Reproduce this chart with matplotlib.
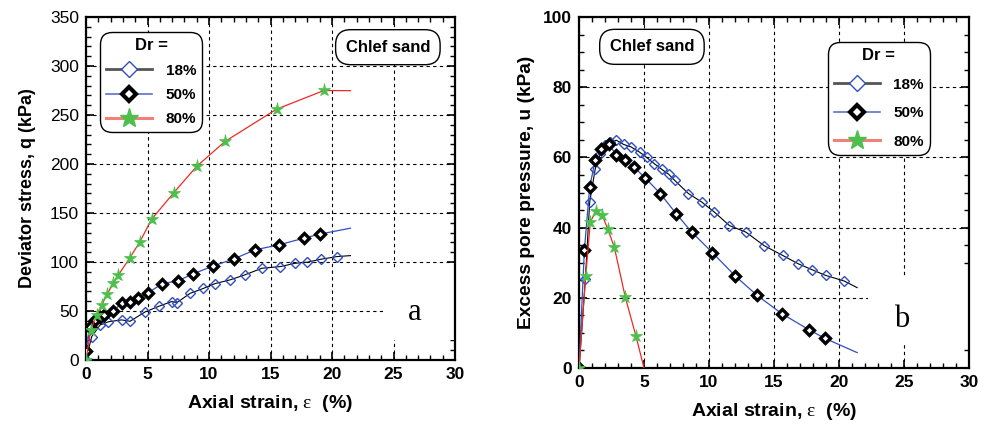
import matplotlib
matplotlib.use("Agg")
import matplotlib.pyplot as plt
from matplotlib.lines import Line2D
from matplotlib.patches import Rectangle
from matplotlib.ticker import MultipleLocator

plt.rcParams["font.family"] = ["Liberation Sans", "DejaVu Sans"]
plt.rcParams["mathtext.fontset"] = "custom"
plt.rcParams["mathtext.rm"] = "Liberation Serif"

DR_LABELS = ["18%", "50%", "80%"]

# ── (a) deviator stress q vs axial strain ─────────────────────────────────────
q18_eps = [0.0, 0.46, 1.14, 1.82, 2.9, 3.58, 4.8, 5.96, 6.96, 7.4, 8.46, 9.54,
           10.5, 11.7, 12.9, 14.3, 15.8, 17.0, 18.0, 19.1, 20.4, 21.5]
q18_q = [0.0, 23.8, 35.7, 39.0, 40.9, 39.5, 49.0, 55.0, 59.6, 58.6, 68.0, 73.0,
         78.0, 81.7, 86.8, 93.6, 95.3, 98.7, 99.8, 102.8, 105.5, 106.5]

q50_eps = [0.0, 0.33, 0.73, 1.14, 1.5, 2.2, 2.9, 3.58, 4.25, 5.07, 6.15, 7.5,
           8.7, 10.35, 12.0, 13.74, 15.7, 17.7, 19.0, 21.5]
q50_q = [9.5, 34.0, 40.8, 44.0, 46.0, 50.0, 57.8, 59.5, 63.0, 68.7, 77.5, 81.0,
         87.8, 96.0, 103.0, 112.4, 117.5, 124.3, 128.4, 134.5]

q80_eps = [0.0, 0.38, 0.87, 1.27, 1.73, 2.22, 2.63, 3.58, 4.39, 5.34, 7.15,
           8.99, 11.3, 15.5, 19.35, 21.5]
q80_q = [0.0, 30.6, 46.0, 56.0, 67.4, 78.3, 86.8, 104.5, 120.9, 143.7, 170.9,
         197.5, 223.0, 256.0, 275.0, 274.8]

# ── (b) excess pore pressure u vs axial strain ────────────────────────────────
u18_eps = [0.0, 0.49, 0.82, 1.25, 1.64, 2.02, 2.4, 2.87, 3.43, 4.0, 4.66, 5.2,
           5.8, 6.37, 6.9, 7.35, 8.42, 9.44, 10.42, 11.57, 12.85, 14.23, 15.66,
           16.87, 17.94, 18.97, 20.4, 21.4]
u18_u = [0.0, 25.5, 47.3, 56.8, 61.0, 63.6, 64.4, 64.9, 63.7, 63.0, 61.5, 60.0,
         58.2, 56.6, 55.2, 53.5, 49.7, 47.3, 44.4, 40.6, 38.7, 34.9, 32.1,
         29.7, 28.0, 26.4, 24.8, 22.9]

u50_eps = [0.0, 0.41, 0.82, 1.25, 1.71, 2.28, 2.87, 3.56, 4.2, 5.09, 6.25, 7.47,
           8.68, 10.26, 12.0, 13.67, 15.6, 17.7, 18.9, 21.4]
u50_u = [0.0, 33.5, 51.6, 59.2, 62.5, 63.7, 60.8, 59.2, 57.3, 54.2, 49.7, 44.0,
         38.7, 32.9, 26.3, 20.8, 15.5, 10.9, 8.5, 4.4]

u80_eps = [0.0, 0.51, 0.87, 1.3, 1.77, 2.2, 2.71, 3.56, 4.38, 5.0]
u80_u = [0.0, 26.1, 41.6, 44.7, 43.7, 39.7, 34.5, 20.2, 9.1, 0.0]

BLUE = "#2f4fc0"
RED = "#ee2a22"
GREEN = "#4cc04c"

STYLE18 = dict(color="black", lw=0.8, marker="D", ms=5.5, mfc="none",
               mec=BLUE, mew=1.0)
STYLE50 = dict(color=BLUE, lw=0.9, marker="D", ms=5, mfc="white",
               mec="black", mew=2.4)
STYLE80 = dict(color=RED, lw=0.9, marker="*", ms=9.5, mfc=GREEN,
               mec=GREEN, mew=0.5)


def legend_handles():
    return [
        Line2D([], [], color="#555555", lw=2.0, marker="D", ms=8,
               mfc="white", mec=BLUE, mew=1.0),
        Line2D([], [], color="#6070c8", lw=1.2, marker="D", ms=7.5,
               mfc="white", mec="black", mew=3.0),
        Line2D([], [], color="#f08078", lw=2.2, marker="*", ms=14,
               mfc=GREEN, mec=GREEN),
    ]


def style_axes(ax, ymax, ymajor, yminor, ybold):
    ax.set_xlim(0, 30)
    ax.set_ylim(0, ymax)
    ax.xaxis.set_major_locator(MultipleLocator(5))
    ax.xaxis.set_minor_locator(MultipleLocator(1))
    ax.yaxis.set_major_locator(MultipleLocator(ymajor))
    ax.yaxis.set_minor_locator(MultipleLocator(yminor))
    ax.tick_params(which="both", direction="in", top=True, right=True)
    ax.tick_params(which="major", length=6, width=1.2, labelsize=12.5, pad=5)
    ax.tick_params(which="minor", length=3.5, width=1.0)
    for lab in ax.get_xticklabels():
        lab.set_fontweight("bold")
    for lab in ax.get_yticklabels():
        lab.set_fontweight("bold" if ybold else "normal")
    ax.set_axisbelow(True)
    ax.grid(True, which="major", color="black", ls=(0, (3, 3)), lw=0.8)
    for sp in ax.spines.values():
        sp.set_linewidth(1.6)
    ax.set_xlabel(r"Axial strain, $\mathrm{\varepsilon}$  (%)",
                  fontsize=14, fontweight="bold", labelpad=8)


def add_tag(ax, text, tx, ty, xbox, ybox):
    ax.add_patch(Rectangle((xbox[0], ybox[0]), xbox[1] - xbox[0],
                           ybox[1] - ybox[0], transform=ax.transAxes,
                           facecolor="white", edgecolor="none", zorder=1))
    ax.text(tx, ty, text, transform=ax.transAxes, ha="center", va="center",
            family="Liberation Serif", fontsize=22, zorder=5)


def add_sample_box(ax, x, y):
    ax.text(x, y, "Chlef sand", transform=ax.transAxes, ha="center",
            va="center", fontsize=12, fontweight="bold", zorder=6,
            bbox=dict(boxstyle="round,pad=0.6,rounding_size=0.9",
                      fc="white", ec="black", lw=1.0))


def add_legend(ax, x, y, spacing):
    leg = ax.legend(legend_handles(), DR_LABELS, loc="upper left",
                    bbox_to_anchor=(x, y), borderaxespad=0, title="Dr =",
                    fancybox=True, framealpha=1, edgecolor="black",
                    handlelength=3.0, handletextpad=0.9,
                    labelspacing=spacing, borderpad=0.4,
                    prop=dict(weight="bold", size=11))
    leg.get_title().set_fontweight("bold")
    leg.get_title().set_fontsize(12)
    leg.get_frame().set_linewidth(1.0)
    leg.get_frame().set_boxstyle("round", pad=0, rounding_size=0.8)
    leg.set_zorder(6)


fig = plt.figure(figsize=(9.92, 4.25), dpi=100)
ax1 = fig.add_axes([0.0867, 0.153, 0.372, 0.807])
ax2 = fig.add_axes([0.5837, 0.134, 0.393, 0.826])

# panel a
ax1.plot(q18_eps, q18_q, markevery=slice(0, -1), zorder=3, **STYLE18)
ax1.plot(q50_eps, q50_q, markevery=slice(0, -1), zorder=3, **STYLE50)
ax1.plot(q80_eps, q80_q, markevery=slice(0, -1), zorder=4, **STYLE80)
style_axes(ax1, 350, 50, 10, ybold=False)
ax1.set_ylabel("Deviator stress, q (kPa)", fontsize=13, fontweight="bold",
               labelpad=10)
add_tag(ax1, "a", 0.892, 0.137, (0.805, 1.0), (0.058, 0.262))
add_sample_box(ax1, 0.818, 0.912)
add_legend(ax1, 0.038, 0.956, 0.68)

# panel b
ax2.plot(u18_eps, u18_u, markevery=slice(0, -1), zorder=3, **STYLE18)
ax2.plot(u50_eps, u50_u, markevery=slice(0, -1), zorder=3, **STYLE50)
ax2.plot(u80_eps, u80_u, markevery=slice(0, -1), zorder=4, **STYLE80)
style_axes(ax2, 100, 20, 5, ybold=True)
ax2.set_ylabel("Excess pore pressure, u (kPa)", fontsize=13.8,
               fontweight="bold", labelpad=6)
add_tag(ax2, "b", 0.827, 0.137, (0.741, 1.0), (0.066, 0.26))
add_sample_box(ax2, 0.187, 0.915)
add_legend(ax2, 0.638, 0.929, 0.95)

fig.savefig("out.png", dpi=100)
